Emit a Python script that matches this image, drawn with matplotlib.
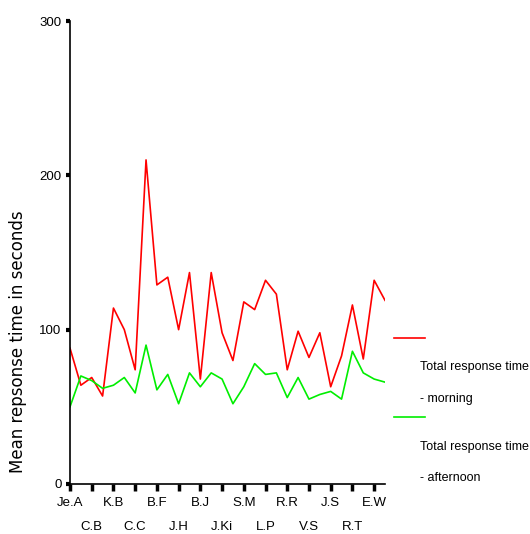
import matplotlib
matplotlib.use("Agg")
import matplotlib.pyplot as plt
from matplotlib.lines import Line2D

# two readings per person, label on the first of each pair
names = ["Je.A", "C.B", "K.B", "C.C", "B.F", "J.H", "B.J", "J.Ki",
         "S.M", "L.P", "R.R", "V.S", "J.S", "R.T", "E.W"]

morning = [88, 64, 69, 57, 114, 100, 74, 210, 129, 134,
           100, 137, 68, 137, 98, 80, 118, 113, 132, 123,
           74, 99, 82, 98, 63, 83, 116, 81, 132, 119]

afternoon = [50, 70, 67, 62, 64, 69, 59, 90, 61, 71,
             52, 72, 63, 72, 68, 52, 63, 78, 71, 72,
             56, 69, 55, 58, 60, 55, 86, 72, 68, 66]

plt.rcParams['font.family'] = ['Liberation Sans Narrow', 'Liberation Sans', 'DejaVu Sans']

fig = plt.figure(figsize=(5.3, 5.34), dpi=100)
ax = fig.add_axes([70 / 530, 1 - 484 / 534, 315 / 530, 463 / 534])

x = list(range(len(morning)))
ax.plot(x, morning, color='#ff0000', lw=1.2)
ax.plot(x, afternoon, color='#00ee00', lw=1.2)

ax.set_xlim(0, len(morning) - 1)
ax.set_ylim(0, 300)

for s in ['top', 'right']:
    ax.spines[s].set_visible(False)
for s in ['left', 'bottom']:
    ax.spines[s].set_linewidth(1.2)

ax.set_yticks([0, 100, 200, 300])
ax.tick_params(axis='y', length=3, width=3, pad=3, labelsize=9.5)

# alternate label rows: major ticks on top row, minor ticks on lower row
ax.set_xticks(x[0::4])
ax.set_xticklabels(names[0::2])
ax.set_xticks(x[2::4], minor=True)
ax.set_xticklabels(names[1::2], minor=True)
ax.tick_params(axis='x', which='major', length=5, width=2.5, pad=4, labelsize=9.5)
ax.tick_params(axis='x', which='minor', length=5, width=2.5, pad=22, labelsize=9.5)

fig.text(18 / 530, 1 - 342 / 534, "Mean repsonse time in seconds", rotation=90,
         ha='center', va='center', fontsize=12, family='DejaVu Sans')

# legend drawn by hand on the right
fig.add_artist(Line2D([394 / 530, 425 / 530], [1 - 338 / 534] * 2, color='#ff0000', lw=1.2))
fig.text(420 / 530, 1 - 367 / 534, "Total response time", fontsize=9, va='center')
fig.text(420 / 530, 1 - 399 / 534, "- morning", fontsize=9, va='center')
fig.add_artist(Line2D([394 / 530, 425 / 530], [1 - 417 / 534] * 2, color='#00ee00', lw=1.2))
fig.text(420 / 530, 1 - 447 / 534, "Total response time", fontsize=9, va='center')
fig.text(420 / 530, 1 - 478 / 534, "- afternoon", fontsize=9, va='center')

fig.savefig("out.png", dpi=100)
